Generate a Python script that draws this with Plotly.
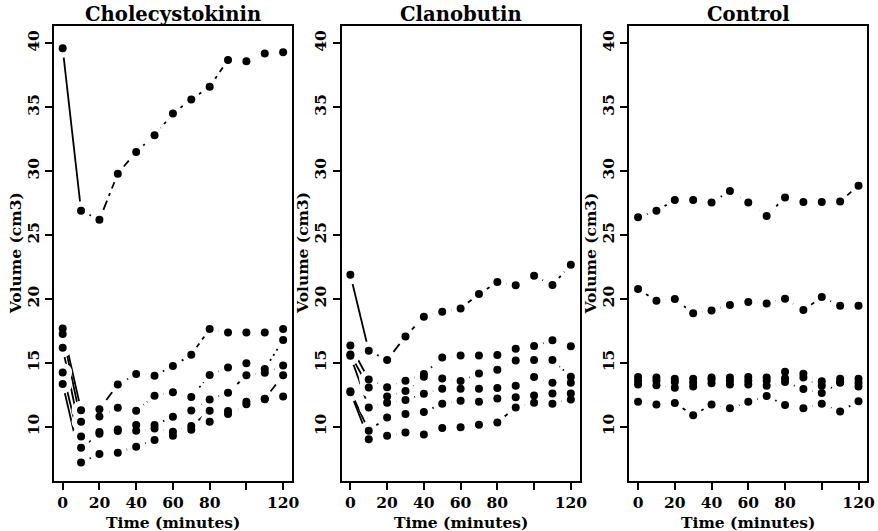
import plotly.graph_objects as go

# Sampling times (minutes) shared by every subject
time_min = [0, 10, 20, 30, 40, 50, 60, 70, 80, 90, 100, 110, 120]

# Axis ticks
x_tick_vals = [0, 20, 40, 60, 80, 100, 120]
x_tick_text = ["0", "20", "40", "60", "80", "", "120"]
y_tick_vals = [10, 15, 20, 25, 30, 35, 40]

panel_titles = ["Cholecystokinin", "Clanobutin", "Control"]

# Gallbladder volume (cm3) per subject, one list per subject
chole = [
    [39.6, 26.9, 26.2, 29.8, 31.5, 32.8, 34.5, 35.6, 36.6, 38.7, 38.6, 39.2, 39.3],
    [17.69, 11.30, 11.36, 13.31, 14.12, 13.99, 14.75, 15.63, 17.64, 17.38, 17.38, 17.38, 17.64],
    [17.25, 10.39, 10.81, 11.49, 11.25, 12.43, 12.69, 12.32, 14.04, 14.64, 14.96, 14.51, 16.78],
    [16.18, 9.24, 9.58, 9.79, 10.13, 10.13, 10.78, 11.28, 12.14, 12.66, 14.02, 14.23, 14.80],
    [14.25, 8.36, 9.45, 9.66, 9.69, 9.87, 9.61, 10.05, 11.25, 11.23, 11.96, 12.19, 14.02],
    [13.34, 7.21, 7.86, 7.97, 8.44, 8.96, 9.30, 9.77, 10.39, 10.99, 11.77, 12.15, 12.37],
]
clano = [
    [21.89, 15.95, 15.22, 17.07, 18.61, 19.00, 19.26, 20.38, 21.32, 21.06, 21.82, 21.08, 22.68],
    [16.36, 13.70, 13.10, 13.60, 14.12, 15.42, 15.58, 15.58, 15.61, 16.10, 16.31, 16.76, 16.29],
    [15.65, 13.08, 12.37, 12.79, 13.91, 13.78, 13.57, 14.17, 14.46, 15.19, 15.22, 15.22, 13.91],
    [15.55, 11.51, 11.88, 12.09, 12.58, 12.97, 12.97, 12.97, 13.03, 13.21, 13.89, 13.44, 13.44],
    [12.78, 9.69, 10.73, 10.99, 11.15, 11.80, 12.03, 11.96, 12.22, 12.30, 12.45, 12.61, 12.61],
    [12.70, 9.03, 9.30, 9.56, 9.40, 9.90, 9.97, 10.16, 10.34, 11.51, 11.88, 11.80, 12.14],
]
control = [
    [26.38, 26.90, 27.74, 27.74, 27.55, 28.44, 27.55, 26.48, 27.94, 27.58, 27.58, 27.63, 28.86],
    [20.77, 19.86, 19.99, 18.87, 19.10, 19.52, 19.75, 19.65, 20.02, 19.13, 20.15, 19.47, 19.47],
    [13.90, 13.85, 13.75, 13.75, 13.85, 13.85, 13.90, 13.85, 14.30, 14.15, 13.55, 13.75, 13.75],
    [13.60, 13.60, 13.50, 13.45, 13.70, 13.60, 13.60, 13.60, 13.80, 13.85, 13.20, 13.50, 13.45],
    [13.30, 13.25, 13.05, 13.15, 13.40, 13.30, 13.30, 13.20, 13.50, 12.95, 12.65, 13.45, 13.15],
    [11.95, 11.75, 11.85, 10.90, 11.75, 11.45, 11.95, 12.40, 11.70, 11.45, 11.80, 11.20, 12.00],
]
groups = [chole, clano, control]

# Line patterns for subjects 1..6 (after the solid baseline drop)
subject_dash = ["3px,5px,10px,5px", "10px,5px", "2px,4px", "2px,4px,8px,4px",
                "12px,5px", "4px,3px,10px,3px"]

W, H = 878, 531
FONT = "DejaVu Serif"
AX_SIZE = 15.5
TITLE_SIZE = 19.6
# panel frame in pixels
BOX_L, BOX_W, STEP = 54.3, 240.0, 290.0
BOX_T, BOX_B = 26.0, 480.7

fig = go.Figure()

for p, subjects in enumerate(groups):
    xa = "x" if p == 0 else f"x{p + 1}"
    ya = "y" if p == 0 else f"y{p + 1}"
    # connecting lines
    for s, vals in enumerate(subjects):
        fig.add_trace(go.Scatter(x=time_min[:2], y=vals[:2], xaxis=xa, yaxis=ya,
                                 mode="lines", line=dict(color="black", width=1.8),
                                 showlegend=False, hoverinfo="skip"))
        fig.add_trace(go.Scatter(x=time_min[1:], y=vals[1:], xaxis=xa, yaxis=ya,
                                 mode="lines",
                                 line=dict(color="black", width=1.8, dash=subject_dash[s]),
                                 showlegend=False, hoverinfo="skip"))
    # white halos leave a gap in the lines around each point
    for vals in subjects:
        fig.add_trace(go.Scatter(x=time_min, y=vals, xaxis=xa, yaxis=ya, mode="markers",
                                 marker=dict(color="white", size=19, line=dict(width=0)),
                                 showlegend=False, hoverinfo="skip"))
    for vals in subjects:
        fig.add_trace(go.Scatter(x=time_min, y=vals, xaxis=xa, yaxis=ya, mode="markers",
                                 marker=dict(color="black", size=8, line=dict(width=0)),
                                 showlegend=False))

axis_font = dict(family=FONT, size=AX_SIZE, color="black", weight="bold")
y_dom = [1 - BOX_B / H, 1 - BOX_T / H]
annotations = []
for p in range(3):
    left = BOX_L + p * STEP
    x_dom = [left / W, (left + BOX_W) / W]
    suffix = "" if p == 0 else str(p + 1)
    fig.layout["xaxis" + suffix] = dict(
        domain=x_dom, range=[-4.8, 124.8], anchor="y" + suffix,
        tickvals=x_tick_vals, ticktext=x_tick_text, ticks="outside", ticklen=7,
        tickwidth=1.5, tickcolor="black", tickfont=axis_font,
        showline=True, mirror=True, linecolor="black", linewidth=2,
        showgrid=False, zeroline=False)
    fig.layout["yaxis" + suffix] = dict(
        domain=y_dom, range=[5.78, 41.35], anchor="x" + suffix,
        tickvals=y_tick_vals, ticks="outside", ticklen=7, tickwidth=1.5,
        tickcolor="black", tickfont=axis_font, tickangle=-90,
        showline=True, mirror=True, linecolor="black", linewidth=2,
        showgrid=False, zeroline=False)
    cx = (left + BOX_W / 2) / W
    annotations.append(dict(text=panel_titles[p], x=cx, y=1 - 14 / H, xref="paper",
                            yref="paper", showarrow=False, xanchor="center", yanchor="middle",
                            font=dict(family=FONT, size=TITLE_SIZE, color="black", weight="bold")))
    annotations.append(dict(text="Time (minutes)", x=cx, y=1 - 522 / H, xref="paper",
                            yref="paper", showarrow=False, xanchor="center", yanchor="middle",
                            font=axis_font))
    annotations.append(dict(text="Volume (cm3)", x=(15 + p * STEP) / W,
                            y=1 - (BOX_T + BOX_B) / 2 / H, xref="paper", yref="paper",
                            showarrow=False, textangle=-90, xanchor="center",
                            yanchor="middle", font=axis_font))

fig.update_layout(width=W, height=H, margin=dict(l=0, r=0, t=0, b=0),
                  paper_bgcolor="white", plot_bgcolor="white",
                  annotations=annotations, showlegend=False)

fig.write_html("out.html")
